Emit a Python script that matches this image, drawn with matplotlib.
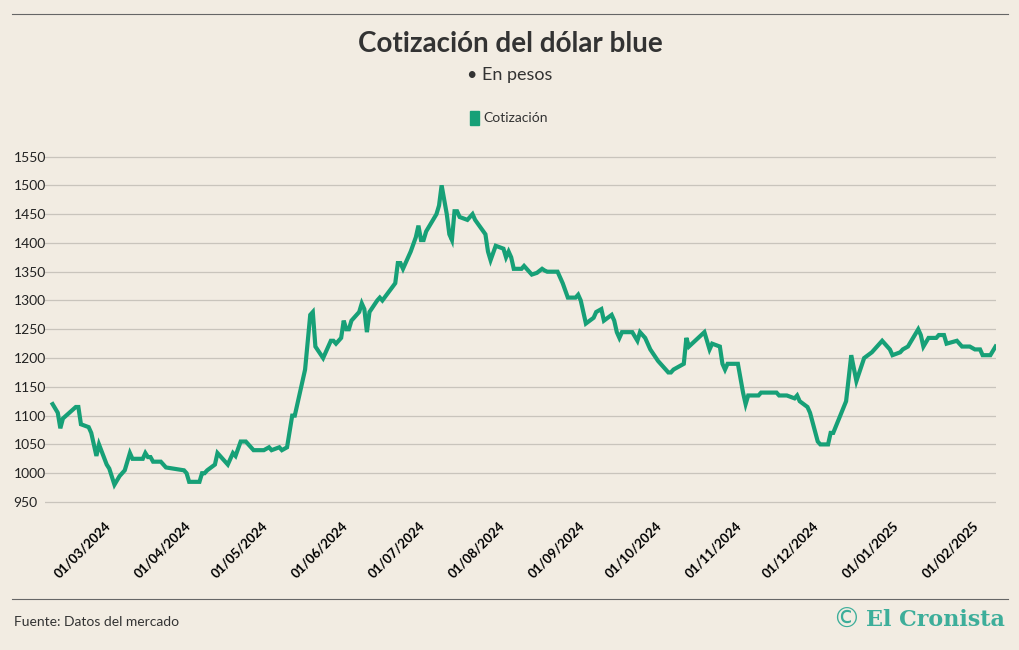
import pandas as pd
import matplotlib.pyplot as plt
import matplotlib.dates as mdates
from matplotlib.lines import Line2D
from matplotlib.patches import Rectangle

plt.rcParams['font.family'] = 'Lato'

# dias desde 01/03/2024 y cotizacion
dias = [-20, -18, -17, -16, -11, -10, -9, -6, -5, -3, -2, 1, 2, 4, 6, 8, 10, 11, 15, 16,
        17, 18, 19, 22, 24, 31, 32, 33, 37, 38, 39, 40, 43, 44, 46, 48, 50, 51, 53, 55,
        58, 62, 64, 65, 68, 69, 71, 73, 74, 78, 80, 81, 82, 85, 88, 89, 90, 92, 93, 94,
        95, 96, 99, 100, 101, 102, 103, 106, 107, 108, 113, 114, 115, 116, 119, 121, 122, 123, 124, 125,
        129, 130, 131, 133, 134, 135, 136, 137, 138, 141, 143, 144, 148, 149, 150, 152, 155, 156, 157, 158,
        159, 162, 163, 166, 168, 170, 171, 172, 176, 177, 178, 180, 183, 184, 185, 187, 190, 191, 193, 194,
        197, 198, 199, 200, 201, 205, 207, 208, 210, 212, 215, 217, 219, 220, 221, 225, 226, 227, 233, 235,
        236, 239, 240, 241, 242, 246, 248, 249, 250, 254, 255, 261, 262, 265, 268, 269, 270, 273, 274, 277,
        278, 281, 282, 283, 288, 290, 292, 295, 298, 302, 305, 306, 309, 310, 312, 314, 316, 317, 318, 320,
        323, 324, 326, 327, 331, 333, 336, 338, 340, 341, 344, 346]
cotizacion = [1120, 1105, 1078, 1095, 1115, 1115, 1085, 1080, 1070, 1030, 1050, 1015, 1008, 980, 995, 1005, 1035, 1025, 1025, 1035,
              1028, 1028, 1020, 1020, 1010, 1005, 1000, 985, 985, 1000, 1000, 1005, 1015, 1035, 1025, 1015, 1035, 1030, 1055, 1055,
              1040, 1040, 1045, 1040, 1045, 1040, 1045, 1100, 1100, 1180, 1275, 1280, 1220, 1200, 1230, 1230, 1225, 1235, 1265, 1250,
              1250, 1265, 1280, 1295, 1285, 1245, 1280, 1300, 1305, 1300, 1330, 1365, 1365, 1355, 1385, 1410, 1430, 1405, 1405, 1420,
              1450, 1465, 1500, 1450, 1415, 1405, 1455, 1455, 1445, 1440, 1450, 1440, 1415, 1385, 1370, 1395, 1390, 1375, 1385, 1375,
              1355, 1355, 1360, 1345, 1348, 1355, 1352, 1350, 1350, 1340, 1330, 1305, 1305, 1310, 1300, 1260, 1270, 1280, 1285, 1265,
              1275, 1265, 1245, 1235, 1245, 1245, 1230, 1245, 1235, 1215, 1195, 1185, 1175, 1175, 1180, 1190, 1235, 1220, 1245, 1215,
              1225, 1220, 1190, 1180, 1190, 1190, 1140, 1120, 1135, 1135, 1140, 1140, 1135, 1135, 1130, 1135, 1125, 1115, 1105, 1055,
              1050, 1050, 1070, 1070, 1125, 1205, 1160, 1200, 1210, 1230, 1215, 1205, 1210, 1215, 1220, 1235, 1250, 1240, 1220, 1235,
              1235, 1240, 1240, 1225, 1230, 1220, 1220, 1215, 1215, 1205, 1205, 1220]
yticks = [950, 1000, 1050, 1100, 1150, 1200, 1250, 1300, 1350, 1400, 1450, 1500, 1550]

base = pd.Timestamp('2024-03-01')
fechas = base + pd.to_timedelta(dias, unit='D')

bg = '#F2ECE2'
verde = '#17A077'
fig = plt.figure(figsize=(10.2, 6.5), dpi=100, facecolor=bg)
ax = fig.add_axes([0.044, 0.21, 0.932, 0.558], facecolor=bg)
ax.plot(fechas, cotizacion, color=verde, lw=3, solid_joinstyle='miter')

ax.set_ylim(930, 1560)
ax.set_xlim(base - pd.Timedelta(days=23), base + pd.Timedelta(days=346))
ax.set_yticks(yticks)
ax.grid(axis='y', color='#C9C4BC', lw=0.9)
ax.set_axisbelow(True)
for s in ax.spines.values():
    s.set_visible(False)
ax.tick_params(axis='y', length=0, labelsize=10, colors='#222222', pad=2)
for lbl in ax.get_yticklabels():
    lbl.set_horizontalalignment('left')
    lbl.set_x(-0.03)
ax.xaxis.set_major_locator(mdates.MonthLocator(bymonthday=1))
ax.xaxis.set_major_formatter(mdates.DateFormatter('%d/%m/%Y'))
ax.tick_params(axis='x', length=0, labelsize=9.5, pad=4)
plt.setp(ax.get_xticklabels(), rotation=45, ha='right', rotation_mode='anchor', fontweight='bold')

fig.add_artist(Line2D([0.012, 0.988], [1 - 14 / 650] * 2, color='#666666', lw=0.8))
fig.add_artist(Line2D([0.012, 0.988], [1 - 599 / 650] * 2, color='#666666', lw=0.8))
fig.text(0.5, 1 - 44 / 650, 'Cotización del dólar blue', ha='center', va='center',
         fontsize=20, fontweight='bold', color='#333333')
fig.text(0.5, 1 - 75 / 650, '• En pesos', ha='center', va='center', fontsize=13, color='#333333')
fig.add_artist(Rectangle((470 / 1020, 1 - 125 / 650), 9 / 1020, 14 / 650, color=verde))
fig.text(483 / 1020, 1 - 118 / 650, 'Cotización', ha='left', va='center', fontsize=10, color='#333333')
fig.text(14 / 1020, 1 - 622 / 650, 'Fuente: Datos del mercado', ha='left', va='center', fontsize=10, color='#333333')
fig.text(1005 / 1020, 1 - 620 / 650, 'El Cronista', ha='right', va='center', fontsize=16,
         family='DejaVu Serif', fontweight='bold', color='#3DAE9A')
fig.text(846 / 1020, 1 - 620 / 650, '©', ha='center', va='center', fontsize=20, color='#3DAE9A', family='DejaVu Sans')

fig.savefig('out.png', dpi=100, facecolor=bg)
